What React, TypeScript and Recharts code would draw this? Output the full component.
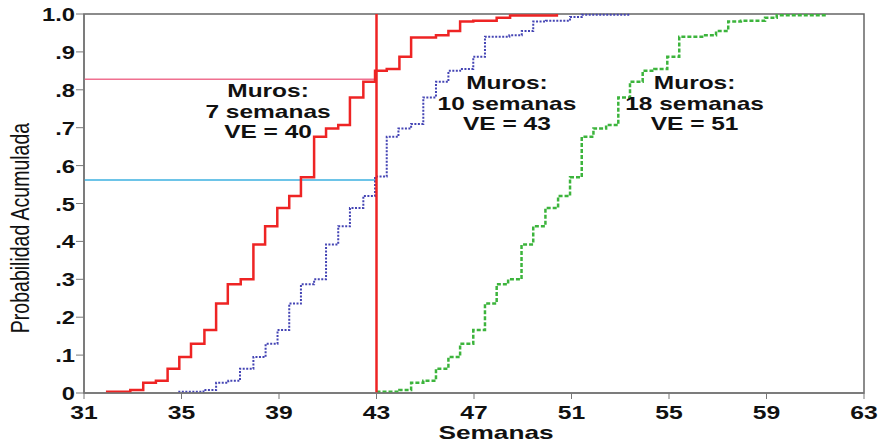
import React from "react";
import {
  LineChart,
  Line,
  XAxis,
  YAxis,
  ReferenceLine,
  ReferenceArea,
  ReferenceDot,
} from "recharts";

// semanas (x) y probabilidad acumulada (y) de cada curva escalonada
const sieteWeeks = [31.9, 32.9, 33.43, 33.95, 34.43, 34.91, 35.39, 35.94, 36.42, 36.9, 37.43, 37.95, 38.43, 38.93, 39.42, 39.9, 40.44, 40.93, 41.43, 41.91, 42.46, 42.94, 43.42, 43.94, 44.42, 45.44, 45.95, 46.43, 46.97, 47.93, 48.48, 50.4];
const sieteProb = [0.003, 0.008, 0.027, 0.032, 0.064, 0.095, 0.13, 0.166, 0.236, 0.287, 0.3, 0.392, 0.44, 0.488, 0.52, 0.569, 0.676, 0.698, 0.707, 0.78, 0.821, 0.85, 0.855, 0.887, 0.938, 0.944, 0.955, 0.98, 0.982, 0.99, 0.996, 1.0];

const diezWeeks = [34.87, 35.9, 36.42, 36.92, 37.4, 37.95, 38.45, 38.94, 39.42, 39.9, 40.44, 40.93, 41.43, 41.91, 42.46, 42.94, 43.42, 43.9, 44.42, 44.92, 45.44, 45.95, 46.43, 46.97, 47.45, 48.45, 48.96, 49.43, 49.95, 50.94, 51.42, 53.4];
const diezProb = [0.003, 0.008, 0.027, 0.032, 0.064, 0.095, 0.13, 0.166, 0.236, 0.287, 0.3, 0.392, 0.44, 0.488, 0.52, 0.571, 0.676, 0.698, 0.71, 0.78, 0.821, 0.85, 0.855, 0.887, 0.94, 0.944, 0.955, 0.98, 0.982, 0.992, 0.998, 1.0];

const dieciochoWeeks = [43.0, 43.94, 44.42, 44.92, 45.44, 45.95, 46.43, 46.97, 47.45, 47.93, 48.4, 48.95, 49.43, 49.93, 50.45, 50.94, 51.42, 51.9, 52.42, 52.92, 53.4, 53.92, 54.4, 54.93, 55.42, 56.42, 56.93, 57.43, 57.95, 58.94, 59.42, 61.45];
const dieciochoProb = [0.003, 0.008, 0.027, 0.032, 0.064, 0.095, 0.13, 0.166, 0.236, 0.287, 0.3, 0.392, 0.44, 0.488, 0.52, 0.569, 0.676, 0.698, 0.707, 0.78, 0.821, 0.85, 0.855, 0.887, 0.94, 0.944, 0.955, 0.98, 0.982, 0.99, 0.997, 1.0];

const xTicks = [31, 35, 39, 43, 47, 51, 55, 59, 63];
const yTicks = [0, 0.1, 0.2, 0.3, 0.4, 0.5, 0.6, 0.7, 0.8, 0.9, 1.0];
const yTickLabels = ["0", ".1", ".2", ".3", ".4", ".5", ".6", ".7", ".8", ".9", "1.0"];

const plazo = 43;
const probSiete = 0.828;
const probDiez = 0.562;

const notas = [
  { x: 38.55, y: 0.781, lines: ["Muros:", "7 semanas", "VE = 40"] },
  { x: 48.35, y: 0.802, lines: ["Muros:", "10 semanas", "VE = 43"] },
  { x: 56.05, y: 0.802, lines: ["Muros:", "18 semanas", "VE = 51"] },
];

const toPoints = (xs: number[], ys: number[]) => xs.map((x, i) => ({ x, y: ys[i] }));

const FONT = "'Liberation Sans', Arial, sans-serif";

const XTick = (props: any) => {
  const { x, y, payload } = props;
  return (
    <text
      transform={`translate(${x},${y + 17.5}) scale(1.3,1)`}
      textAnchor="middle"
      fontFamily={FONT}
      fontWeight="bold"
      fontSize={19}
      fill="#111"
    >
      {payload.value}
    </text>
  );
};

const YTick = (props: any) => {
  const { x, y, payload } = props;
  const i = yTicks.findIndex((t) => Math.abs(t - payload.value) < 1e-6);
  return (
    <text
      transform={`translate(${x + 1},${y + 7}) scale(1.32,1)`}
      textAnchor="end"
      fontFamily={FONT}
      fontWeight="bold"
      fontSize={18}
      fill="#111"
    >
      {i >= 0 ? yTickLabels[i] : payload.value}
    </text>
  );
};

const Nota = (lines: string[]) => (p: any) => {
  const { x, y } = p.viewBox;
  return (
    <g>
      {lines.map((l, i) => (
        <text
          key={i}
          transform={`translate(${x},${y + i * 20.5}) scale(1.4,1)`}
          textAnchor="middle"
          fontFamily={FONT}
          fontWeight="bold"
          fontSize={17.5}
          fill="#111"
        >
          {l}
        </text>
      ))}
    </g>
  );
};

export default function App() {
  return (
    <div style={{ position: "absolute", left: 0, top: 0, background: "#fff" }}>
      <LineChart
        width={885}
        height={442}
        margin={{ top: 14, right: 21, bottom: 0, left: 0 }}
      >
        <XAxis
          type="number"
          dataKey="x"
          domain={[31, 63]}
          ticks={xTicks}
          allowDataOverflow
          height={49}
          tickSize={6}
          axisLine={{ stroke: "#777", strokeWidth: 1.5 }}
          tickLine={{ stroke: "#777" }}
          tick={<XTick />}
          label={{
            content: () => (
              <text
                transform="translate(496,438.5) scale(1.5,1)"
                textAnchor="middle"
                fontFamily={FONT}
                fontWeight="bold"
                fontSize={17.5}
                fill="#111"
              >
                Semanas
              </text>
            ),
          }}
        />
        <YAxis
          type="number"
          dataKey="y"
          domain={[0, 1]}
          ticks={yTicks}
          width={84}
          tickSize={8}
          axisLine={{ stroke: "#777", strokeWidth: 1.5 }}
          tickLine={{ stroke: "#777" }}
          tick={<YTick />}
          label={{
            content: () => (
              <text
                transform="translate(20,228) rotate(-90) scale(1,1.3)"
                textAnchor="middle"
                dy="0.35em"
                fontFamily={FONT}
                fontSize={19.5}
                fill="#111"
              >
                Probabilidad Acumulada
              </text>
            ),
          }}
        />
        <ReferenceArea x1={31} x2={63} y1={0} y2={1} fill="none" stroke="#666" strokeWidth={1.5} />
        <ReferenceLine
          segment={[{ x: 31, y: probSiete }, { x: plazo, y: probSiete }]}
          stroke="#f07090"
          strokeWidth={1.5}
        />
        <ReferenceLine
          segment={[{ x: 31, y: probDiez }, { x: plazo, y: probDiez }]}
          stroke="#3cb0e0"
          strokeWidth={1.5}
        />
        <Line
          data={toPoints(dieciochoWeeks, dieciochoProb)}
          dataKey="y"
          type="stepAfter"
          stroke="#3cb43c"
          strokeWidth={2.5}
          strokeDasharray="4 2"
          dot={false}
          isAnimationActive={false}
        />
        <Line
          data={toPoints(diezWeeks, diezProb)}
          dataKey="y"
          type="stepAfter"
          stroke="#4444b4"
          strokeWidth={2}
          strokeDasharray="2 1.5"
          dot={false}
          isAnimationActive={false}
        />
        <Line
          data={toPoints(sieteWeeks, sieteProb)}
          dataKey="y"
          type="stepAfter"
          stroke="#ee2424"
          strokeWidth={2.5}
          dot={false}
          isAnimationActive={false}
        />
        <ReferenceLine x={plazo} stroke="#ee2424" strokeWidth={2.5} />
        {notas.map((n, i) => (
          <ReferenceDot
            key={i}
            x={n.x}
            y={n.y}
            r={0}
            fill="none"
            stroke="none"
            label={{ content: Nota(n.lines) }}
          />
        ))}
      </LineChart>
    </div>
  );
}
